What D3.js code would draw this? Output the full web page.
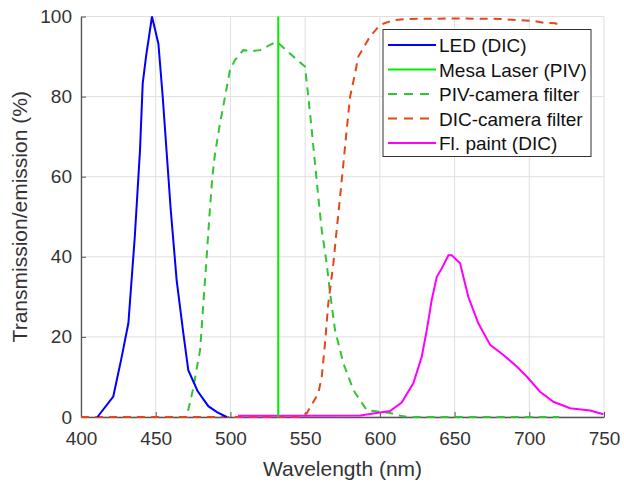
<!DOCTYPE html>
<html>
<head>
<meta charset="utf-8">
<script src="https://cdn.jsdelivr.net/npm/d3@7"></script>
<style>
  body { margin: 0; background: #fff; }
  text { font-family: "Liberation Sans", Arial, sans-serif; }
</style>
</head>
<body>
<div id="chart"></div>
<script>
// series names shown in the legend
var seriesNames = ["LED (DIC)", "Mesa Laser (PIV)", "PIV-camera filter", "DIC-camera filter", "Fl. paint (DIC)"];

// wavelength (nm), value (%)
var ledData = [[411,0],[421.6,5.1],[426.8,14.2],[431.7,23.4],[436,45],[439.5,66.7],[441.3,83.3],[443.5,89.9],
  [447.5,100],[451.8,93.2],[454.7,79.9],[456.9,68.3],[460,52],[464,34.2],[468.5,20.9],[471.8,11.7],
  [478,6.5],[485.2,2.7],[491,1.2],[497.5,0]];

var laserData = [[532,0],[532,100]];

var pivFilterData = [[400,0],[470.7,0],[475,7],[479.7,16.7],[481.9,28.4],[484.1,40],[485.9,50],[487.9,60],
  [489.7,65.8],[493,73.3],[496.4,80],[499.7,86.6],[503,89.1],[508.6,91.6],[515,91.4],[520,91.6],
  [526.5,92.9],[531,93.7],[542.1,90],[549.9,87.5],[552.1,80],[554.4,71.7],[556.6,63.3],[558.8,55],
  [561.1,46.7],[564.4,38.4],[566.7,30.9],[570,21.7],[575.6,13.4],[582.3,6.7],[591.2,1.7],[600,1.3],
  [607,1],[613.5,0.3],[620,0],[720,0]];

var dicFilterData = [[400,0],[545,0],[551,0.9],[558.8,5.9],[561.1,10],[563.3,18.4],[565.5,28.4],[568.9,38.4],
  [571.1,46.7],[573.4,55],[575.6,63.3],[577.8,71.7],[580.1,80],[583.4,85.8],[585.6,90],[593.4,95],
  [600.1,97.9],[609,99.1],[620,99.4],[650,99.5],[680,99.4],[691.6,99.1],[702.5,98.9],[710,98.4],
  [717.3,98.3],[720,98]];

var paintData = [[505,0.3],[540,0.3],[587,0.4],[595.6,0.9],[600.1,1.1],[606.8,1.5],[614.6,3.6],[622.4,8.4],
  [628,15],[631.4,21.7],[634.7,29.2],[638.1,35],[641.4,37.1],[645.9,40.4],[648.1,40.4],[653.7,38.4],
  [655.9,35],[659.2,30],[665.9,23.4],[673.8,18],[682.7,15.5],[691.6,12.6],[698.3,10.1],[707.2,6.3],
  [716.1,3.8],[727.3,2.2],[740.7,1.6],[749.6,0.7]];

var xTicks = [400, 450, 500, 550, 600, 650, 700, 750];
var yTicks = [0, 20, 40, 60, 80, 100];

var width = 624, height = 486;
var margin = {left: 81, right: 20, top: 16.5, bottom: 69};

var svg = d3.select("#chart").append("svg")
  .attr("width", width)
  .attr("height", height);

var x = d3.scaleLinear().domain([400, 750]).range([margin.left, width - margin.right]);
var y = d3.scaleLinear().domain([0, 100]).range([height - margin.bottom, margin.top]);

// grid
svg.append("g").selectAll("line").data(xTicks).enter().append("line")
  .attr("x1", function (d) { return x(d); }).attr("x2", function (d) { return x(d); })
  .attr("y1", y(0)).attr("y2", y(100))
  .style("stroke", "#dfdfdf").style("stroke-width", 1);
svg.append("g").selectAll("line").data(yTicks).enter().append("line")
  .attr("x1", x(400)).attr("x2", x(750))
  .attr("y1", function (d) { return y(d); }).attr("y2", function (d) { return y(d); })
  .style("stroke", "#dfdfdf").style("stroke-width", 1);

// axes
var xAxis = svg.append("g")
  .attr("transform", "translate(0," + y(0) + ")")
  .call(d3.axisBottom(x).tickValues(xTicks).tickSizeInner(-5).tickSizeOuter(0).tickPadding(15));
var yAxis = svg.append("g")
  .attr("transform", "translate(" + x(400) + ",0)")
  .call(d3.axisLeft(y).tickValues(yTicks).tickSizeInner(-5).tickSizeOuter(0).tickPadding(9));

[xAxis, yAxis].forEach(function (a) {
  a.select(".domain").style("stroke", "#555").style("stroke-width", 1.3);
  a.selectAll(".tick line").style("stroke", "#555");
  a.selectAll(".tick text").style("font-size", "19px").style("fill", "#333");
});

// axis titles
svg.append("text")
  .attr("x", (x(400) + x(750)) / 2).attr("y", 476)
  .attr("text-anchor", "middle")
  .style("font-size", "21px").style("fill", "#333")
  .text("Wavelength (nm)");
svg.append("text")
  .attr("transform", "translate(27," + ((y(0) + y(100)) / 2) + ") rotate(-90)")
  .attr("text-anchor", "middle")
  .style("font-size", "21px").style("fill", "#333")
  .text("Transmission/emission (%)");

var line = d3.line()
  .x(function (d) { return x(d[0]); })
  .y(function (d) { return y(d[1]); });

var series = [
  {data: ledData, color: "#0000ff", dash: null},
  {data: laserData, color: "#00ee00", dash: null},
  {data: pivFilterData, color: "#33c433", dash: "8,6"},
  {data: dicFilterData, color: "#e2471a", dash: "8,6"},
  {data: paintData, color: "#ff00ff", dash: null}
];

// draw order: filters first, then emissions
[2, 3, 4, 0, 1].forEach(function (i) {
  var s = series[i];
  svg.append("path")
    .datum(s.data)
    .attr("d", line)
    .style("fill", "none")
    .style("stroke", s.color)
    .style("stroke-width", 2)
    .style("stroke-dasharray", s.dash);
});

// legend
var lg = svg.append("g").attr("transform", "translate(383,29.5)");
lg.append("rect")
  .attr("width", 208).attr("height", 127)
  .style("fill", "#fff").style("stroke", "#333").style("stroke-width", 1);
seriesNames.forEach(function (name, i) {
  var ly = 15.5 + i * 24.5;
  lg.append("line")
    .attr("x1", 5).attr("x2", 53).attr("y1", ly).attr("y2", ly)
    .style("stroke", series[i].color).style("stroke-width", 2)
    .style("stroke-dasharray", series[i].dash ? "9,7" : null);
  lg.append("text")
    .attr("x", 56).attr("y", ly + 7)
    .style("font-size", "19px").style("fill", "#111")
    .text(name);
});
</script>
</body>
</html>
